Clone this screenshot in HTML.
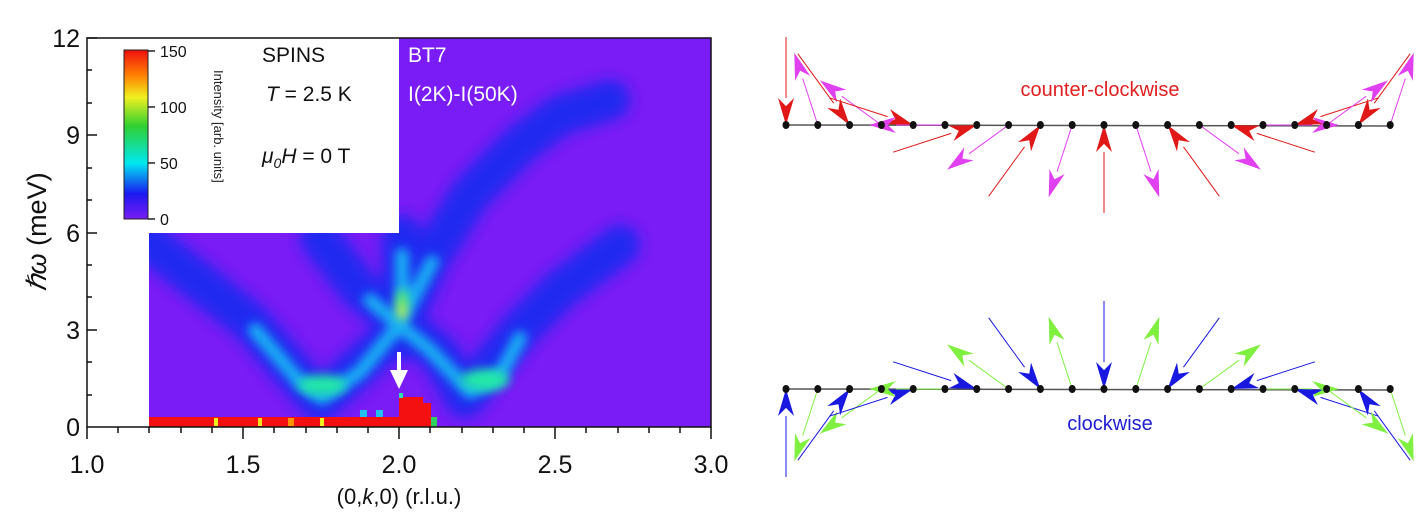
<!DOCTYPE html>
<html><head><meta charset="utf-8"><style>
body{margin:0;width:1428px;height:523px;background:#fff;overflow:hidden}
svg{position:absolute;left:0;top:0}
text{font-family:"Liberation Sans",sans-serif}
</style></head><body>
<svg width="1428" height="523" viewBox="0 0 1428 523">
<defs>
<filter id="b1" x="-30%" y="-30%" width="160%" height="160%"><feGaussianBlur stdDeviation="7"/></filter>
<filter id="b2" x="-30%" y="-30%" width="160%" height="160%"><feGaussianBlur stdDeviation="5"/></filter>
<linearGradient id="cb" x1="0" y1="1" x2="0" y2="0">
<stop offset="0" stop-color="#7a1cf5"/><stop offset="0.15" stop-color="#1a1af0"/><stop offset="0.33" stop-color="#00e8f0"/><stop offset="0.55" stop-color="#30d030"/><stop offset="0.72" stop-color="#f0f020"/><stop offset="0.85" stop-color="#ff8000"/><stop offset="1" stop-color="#f01010"/></linearGradient>
<clipPath id="pc"><rect x="149" y="38" width="562" height="389"/></clipPath>
</defs>
<rect x="149" y="38" width="562" height="389" fill="#7a1cf5"/>
<g clip-path="url(#pc)" fill="none" stroke-linecap="round" stroke-linejoin="round">
<g stroke="#1a2af0" stroke-width="40" filter="url(#b1)" opacity="0.95">
<polyline points="140,235 250,322 320,402 399,330 430,258 470,195 520,145 560,115 610,100"/>
<polyline points="320,238 360,290 399,322 440,355 465,398 520,330 560,290 620,245"/>
<line x1="402" y1="235" x2="402" y2="340"/>
</g>
<g stroke="#18c8f5" stroke-width="14" filter="url(#b2)" opacity="0.85">
<polyline points="255,330 300,382 322,398 360,372 399,325 420,285 432,262"/>
<polyline points="370,300 399,325 430,350 470,392 500,375 520,338"/>
<line x1="402" y1="255" x2="402" y2="330"/>
</g>
<g filter="url(#b2)">
<ellipse cx="322" cy="385" rx="24" ry="10" fill="#20e8a8"/>
<ellipse cx="485" cy="380" rx="24" ry="11" fill="#20e8a8"/>
<ellipse cx="402" cy="305" rx="6" ry="16" fill="#60f060"/>
<ellipse cx="402" cy="312" rx="3" ry="7" fill="#f0f020"/>
</g>
</g>
<rect x="149" y="417" width="282" height="10" fill="#f41010"/>
<rect x="399" y="397" width="24" height="20" fill="#f41010"/>
<rect x="423" y="403" width="8" height="14" fill="#f41010"/>
<rect x="214" y="418" width="4" height="8" fill="#f0f020"/>
<rect x="258" y="418" width="4" height="8" fill="#f0e020"/>
<rect x="320" y="418" width="4" height="8" fill="#f0f020"/>
<rect x="288" y="418" width="6" height="8" fill="#ff9000"/>
<rect x="431" y="417" width="6" height="10" fill="#30d060"/>
<rect x="360" y="410" width="7" height="7" fill="#20c0f0"/>
<rect x="376" y="410" width="7" height="7" fill="#20c0f0"/>
<rect x="399" y="393" width="4" height="5" fill="#30e0b0"/>
<line x1="399" y1="352" x2="399" y2="372" stroke="#fff" stroke-width="4"/>
<polygon points="390,370 408,370 399,389" fill="#fff"/>
<rect x="87" y="38" width="312" height="195" fill="#fff"/>
<rect x="124" y="50" width="24" height="169" fill="url(#cb)" stroke="#222" stroke-width="1"/>
<g stroke="#222" stroke-width="1.5">
<line x1="148" y1="51" x2="155" y2="51"/><line x1="148" y1="107" x2="155" y2="107"/><line x1="148" y1="163" x2="155" y2="163"/><line x1="148" y1="219" x2="155" y2="219"/></g>
<g font-size="16" fill="#111"><text x="160" y="57">150</text><text x="160" y="113">100</text><text x="160" y="169">50</text><text x="160" y="225">0</text></g>
<text transform="translate(214,70) rotate(90)" font-size="13" fill="#222">Intensity [arb. units]</text>
<g font-size="21" fill="#111"><text x="262" y="62">SPINS</text><text x="266" y="101"><tspan font-style="italic">T</tspan> = 2.5 K</text>
<text x="262" y="163"><tspan font-style="italic">μ</tspan><tspan font-style="italic" font-size="14" dy="5">0</tspan><tspan font-style="italic" dy="-5">H</tspan> = 0 T</text></g>
<g font-size="21" fill="#fff"><text x="408" y="62">BT7</text><text x="408" y="101">I(2K)-I(50K)</text></g>
<rect x="87" y="38" width="624" height="389" fill="none" stroke="#111" stroke-width="1.5"/>
<g stroke="#111" stroke-width="1.5">
<line x1="87" y1="38" x2="97" y2="38"/><line x1="87" y1="135" x2="97" y2="135"/><line x1="87" y1="233" x2="97" y2="233"/><line x1="87" y1="330" x2="97" y2="330"/>
<line x1="87" y1="70" x2="92" y2="70"/><line x1="87" y1="103" x2="92" y2="103"/><line x1="87" y1="168" x2="92" y2="168"/><line x1="87" y1="200" x2="92" y2="200"/><line x1="87" y1="265" x2="92" y2="265"/><line x1="87" y1="297" x2="92" y2="297"/><line x1="87" y1="362" x2="92" y2="362"/><line x1="87" y1="395" x2="92" y2="395"/>
<line x1="87" y1="427" x2="87" y2="439"/><line x1="243" y1="427" x2="243" y2="439"/><line x1="399" y1="427" x2="399" y2="439"/><line x1="555" y1="427" x2="555" y2="439"/><line x1="711" y1="427" x2="711" y2="439"/>
<line x1="118" y1="427" x2="118" y2="433"/><line x1="149" y1="427" x2="149" y2="433"/><line x1="181" y1="427" x2="181" y2="433"/><line x1="212" y1="427" x2="212" y2="433"/><line x1="274" y1="427" x2="274" y2="433"/><line x1="306" y1="427" x2="306" y2="433"/><line x1="337" y1="427" x2="337" y2="433"/><line x1="368" y1="427" x2="368" y2="433"/><line x1="430" y1="427" x2="430" y2="433"/><line x1="462" y1="427" x2="462" y2="433"/><line x1="493" y1="427" x2="493" y2="433"/><line x1="524" y1="427" x2="524" y2="433"/><line x1="586" y1="427" x2="586" y2="433"/><line x1="618" y1="427" x2="618" y2="433"/><line x1="649" y1="427" x2="649" y2="433"/><line x1="680" y1="427" x2="680" y2="433"/>
</g>
<g font-size="25" fill="#111" text-anchor="end"><text x="80" y="47">12</text><text x="80" y="144">9</text><text x="80" y="242">6</text><text x="80" y="339">3</text><text x="80" y="436">0</text></g>
<g font-size="25" fill="#111" text-anchor="middle"><text x="87" y="473">1.0</text><text x="243" y="473">1.5</text><text x="399" y="473">2.0</text><text x="555" y="473">2.5</text><text x="711" y="473">3.0</text>
<text x="399" y="504" font-size="22">(0,<tspan font-style="italic">k</tspan>,0) (r.l.u.)</text></g>
<text transform="translate(46,232) rotate(-90)" font-size="27" fill="#111" text-anchor="middle"><tspan font-style="italic">ℏω</tspan> (meV)</text>
<g id="diag"></g>
<text x="1100" y="96" font-size="20" fill="#e02020" text-anchor="middle">counter-clockwise</text>
<text x="1110" y="430" font-size="20" fill="#2020d0" text-anchor="middle">clockwise</text>
</svg>
<script>
(function(){
var g=document.getElementById('diag'),h='';
function arrow(x1,y1,x2,y2,c){var dx=x2-x1,dy=y2-y1,L=Math.hypot(dx,dy),ux=dx/L,uy=dy/L,hl=27,hw=8;
var bx=x2-ux*hl,by=y2-uy*hl,nx=-uy,ny=ux;
h+='<line x1="'+x1+'" y1="'+y1+'" x2="'+bx+'" y2="'+by+'" stroke="'+c+'" stroke-width="1"/>';
h+='<polygon points="'+x2+','+y2+' '+(bx+nx*hw)+','+(by+ny*hw)+' '+(x2-ux*hl*0.7)+','+(y2-uy*hl*0.7)+' '+(bx-nx*hw)+','+(by-ny*hw)+'" fill="'+c+'"/>';}
function row(y,sign,base,cIn,cOut){
h+='<line x1="786" y1="'+y+'" x2="1392" y2="'+(y+1)+'" stroke="#555" stroke-width="1.5"/>';
for(var i=0;i<20;i++){var x=786+i*31.8,a=(base+sign*18*i)*Math.PI/180,cx=Math.cos(a),cy=-Math.sin(a);
if(i%2==0){arrow(x+cx*88,y+cy*88,x,y,cIn);}else{arrow(x,y,x+cx*76,y+cy*76,cOut);}}
for(var i=0;i<20;i++){h+='<ellipse cx="'+(786+i*31.8)+'" cy="'+y+'" rx="3.5" ry="4" fill="#111"/>';}}
row(125,1,90,'#e01818','#e040f0');
row(389,-1,270,'#1818e0','#80f040');
g.innerHTML=h;})();
</script>
</body></html>
